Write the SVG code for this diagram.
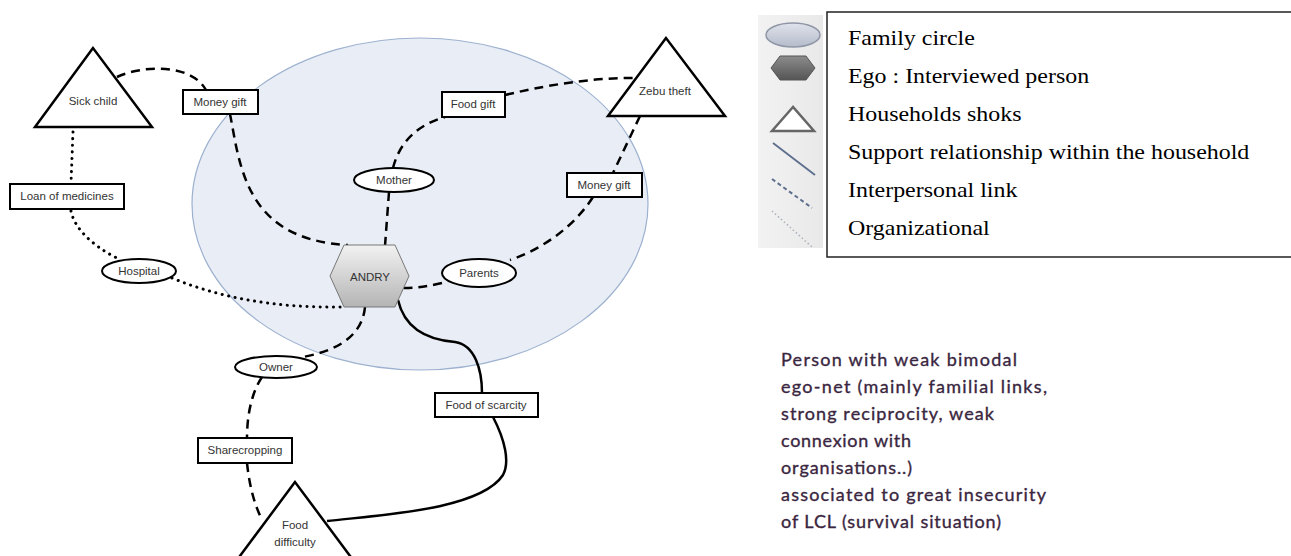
<svg xmlns="http://www.w3.org/2000/svg" width="1291" height="556" viewBox="0 0 1291 556">
<defs>
<linearGradient id="gHex" x1="0" y1="0" x2="0" y2="1">
<stop offset="0" stop-color="#f2f2f2"/><stop offset="1" stop-color="#b4b4b4"/>
</linearGradient>
<linearGradient id="gHexL" x1="0" y1="0" x2="0" y2="1">
<stop offset="0" stop-color="#8c8c8c"/><stop offset="1" stop-color="#555"/>
</linearGradient>
<linearGradient id="gEllL" x1="0" y1="0" x2="0" y2="1">
<stop offset="0" stop-color="#dfe3ec"/><stop offset="1" stop-color="#b5bbca"/>
</linearGradient>
<linearGradient id="gPanel" x1="0" y1="0" x2="1" y2="0">
<stop offset="0" stop-color="#f2f2f2"/><stop offset="1" stop-color="#e9e9e9"/>
</linearGradient>
</defs>
<style>
.lbl{font-family:"Liberation Sans",Arial,sans-serif;font-size:11.5px;fill:#333;text-anchor:middle}
.box{fill:#fff;stroke:#000;stroke-width:2}
.ell{fill:#fff;stroke:#000;stroke-width:2}
.tri{fill:#fff;stroke:#000;stroke-width:2.5;stroke-linejoin:miter}
.c{fill:none;stroke:#000;stroke-width:2.5}
.dash{stroke-dasharray:9 6}
.dot{stroke-dasharray:0.1 6.5;stroke-linecap:round;stroke-width:3}
.leg{font-family:"Liberation Serif","Times New Roman",serif;font-size:21px;fill:#000}
.desc{font-family:Lato,"Noto Sans",sans-serif;font-size:18px;fill:#3a2640;stroke:#3a2640;stroke-width:0.35}
</style>
<rect width="1291" height="556" fill="#fff"/>
<g id="family-circle">
<ellipse cx="420" cy="204" rx="228" ry="166" fill="#e9eef6" stroke="#9db1cf" stroke-width="1.2"/>
</g>
<g id="connectors">
<path class="c dash" d="M117,77 C140,66 190,62 206,90"/>
<path class="c dash" d="M230,114 C240,165 245,240 348,245"/>
<path class="c dash" d="M389,192 L385,246"/>
<path class="c dash" d="M393,168 C400,140 420,124 445,117"/>
<path class="c dash" d="M505,95 C560,82 600,78 633,78"/>
<path class="c dash" d="M640,116 L613,173"/>
<path class="c dash" d="M593,197 C575,225 545,248 510,260"/>
<path class="c dash" d="M442,283 C425,287 415,288 402,288"/>
<path class="c dot" d="M73,132 L71,184"/>
<path class="c dot" d="M71,211 C75,232 100,250 117,258"/>
<path class="c dot" d="M172,278 C230,302 290,308 345,307"/>
<path class="c dash" d="M365,307 C362,340 330,352 303,357"/>
<path class="c dash" d="M262,377 C250,395 247,420 247,438"/>
<path class="c dash" d="M247,463 C250,490 255,505 262,520"/>
<path class="c" d="M398,300 C405,330 430,340 455,342 C475,345 482,370 482,393"/>
<path class="c" d="M493,417 C505,440 510,462 503,475 C480,510 380,515 327,521"/>
</g>
<g id="sick-child"><polygon class="tri" points="93,48 35,127 152,127"/><text class="lbl" x="93" y="105">Sick child</text></g>
<g id="money-gift-1"><rect class="box" x="183" y="90" width="75" height="24"/><text class="lbl" x="220" y="106">Money gift</text></g>
<g id="loan-of-medicines"><rect class="box" x="10" y="184" width="114" height="25"/><text class="lbl" x="67" y="200">Loan of medicines</text></g>
<g id="hospital"><ellipse class="ell" cx="139" cy="271" rx="37" ry="12"/><text class="lbl" x="139" y="275">Hospital</text></g>
<g id="andry"><polygon points="330,276 344,245 395,245 409,276 395,307 344,307" fill="url(#gHex)" stroke="#777" stroke-width="1"/><text class="lbl" x="370" y="281">ANDRY</text></g>
<g id="mother"><ellipse class="ell" cx="394" cy="180" rx="40" ry="12"/><text class="lbl" x="394" y="184">Mother</text></g>
<g id="food-gift"><rect class="box" x="442" y="92" width="63" height="25"/><text class="lbl" x="473" y="108">Food gift</text></g>
<g id="zebu-theft"><polygon class="tri" points="666,38 608,116 725,116"/><text class="lbl" x="665" y="95">Zebu theft</text></g>
<g id="money-gift-2"><rect class="box" x="567" y="173" width="75" height="24"/><text class="lbl" x="604" y="189">Money gift</text></g>
<g id="parents"><ellipse class="ell" cx="479" cy="273" rx="37" ry="14"/><text class="lbl" x="479" y="277">Parents</text></g>
<g id="owner"><ellipse class="ell" cx="276" cy="367" rx="41" ry="11"/><text class="lbl" x="276" y="371">Owner</text></g>
<g id="food-of-scarcity"><rect class="box" x="435" y="393" width="103" height="24"/><text class="lbl" x="486" y="409">Food of scarcity</text></g>
<g id="sharecropping"><rect class="box" x="198" y="438" width="94" height="25"/><text class="lbl" x="245" y="454">Sharecropping</text></g>
<g id="food-difficulty"><polygon class="tri" points="295,482 231,568 359,568"/><text class="lbl" x="295" y="529">Food</text><text class="lbl" x="295" y="546">difficulty</text></g>
<g id="legend">
<rect x="758" y="15" width="65" height="233" fill="url(#gPanel)"/>
<ellipse cx="793" cy="35" rx="27" ry="12" fill="url(#gEllL)" stroke="#8f96a6" stroke-width="1.5"/>
<polygon points="771,68 780,56 806,56 815,68 806,80 780,80" fill="url(#gHexL)" stroke="#555" stroke-width="1"/>
<polygon points="793,107 772,131 814,131" fill="#fff" stroke="#666" stroke-width="2.5"/>
<line x1="773" y1="143" x2="815" y2="175" stroke="#5f6f8e" stroke-width="2"/>
<line x1="772" y1="179" x2="812" y2="208" stroke="#5f6f8e" stroke-width="2" stroke-dasharray="4 3"/>
<line x1="772" y1="211" x2="812" y2="247" stroke="#aab0bc" stroke-width="1.5" stroke-dasharray="1.5 2.5"/>
<rect x="827" y="12" width="470" height="245" fill="none" stroke="#222" stroke-width="1.5"/>
<g transform="translate(848,0) scale(1.14,1)">
<text class="leg" x="0" y="45">Family circle</text>
<text class="leg" x="0" y="83">Ego : Interviewed person</text>
<text class="leg" x="0" y="121">Households shoks</text>
<text class="leg" x="0" y="159">Support relationship within the household</text>
<text class="leg" x="0" y="197">Interpersonal link</text>
<text class="leg" x="0" y="235">Organizational</text>
</g>
</g>
<g id="description">
<text class="desc" x="781" y="366" textLength="236">Person with weak bimodal</text>
<text class="desc" x="781" y="393" textLength="266">ego-net (mainly familial links,</text>
<text class="desc" x="781" y="420" textLength="213">strong reciprocity, weak</text>
<text class="desc" x="781" y="447" textLength="130">connexion with</text>
<text class="desc" x="781" y="474" textLength="131">organisations..)</text>
<text class="desc" x="781" y="501" textLength="265">associated to great insecurity</text>
<text class="desc" x="781" y="528" textLength="220">of LCL (survival situation)</text>
</g>
</svg>
